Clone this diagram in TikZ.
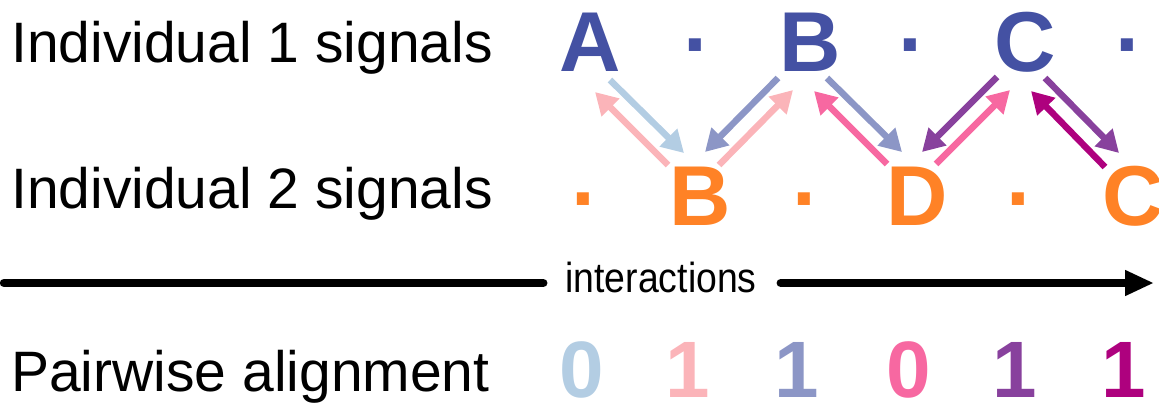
\documentclass[tikz,border=0pt]{standalone}
\usepackage{fontspec}
\usepackage{graphicx}
\setmainfont{Liberation Sans}
\usetikzlibrary{arrows.meta,calc}
\definecolor{sigblue}{HTML}{4451A3}
\definecolor{sigorange}{HTML}{FF8226}
\definecolor{clightblue}{HTML}{B3CDE3}
\definecolor{clightpink}{HTML}{FBB4B9}
\definecolor{cbluegrey}{HTML}{8C96C6}
\definecolor{chotpink}{HTML}{F768A1}
\definecolor{cpurple}{HTML}{88419D}
\definecolor{cmagenta}{HTML}{AE017E}
\tikzset{
  rowlabel/.style={anchor=base west,inner sep=0pt,font=\fontsize{57}{60}\selectfont},
  sigtop/.style={anchor=base,inner sep=0pt,text=sigblue,font=\fontsize{85}{90}\selectfont\bfseries},
  sigbot/.style={anchor=base,inner sep=0pt,text=sigorange,font=\fontsize{85}{90}\selectfont\bfseries},
  digit/.style={anchor=base,inner sep=0pt,font=\fontsize{80}{84}\selectfont\bfseries},
  pairarrow/.style={line width=6.5pt,-{Triangle[length=22pt,width=24pt]}},
  axisline/.style={line width=8.5pt,line cap=round},
}
\begin{document}
\begin{tikzpicture}[x=1pt,y=-1pt]
\useasboundingbox (0,0) rectangle (1159,407);
% row labels
\node[rowlabel] (lab1) at (11,62) {Individual 1 signals};
\node[rowlabel] (lab2) at (11,208) {Individual 2 signals};
\node[rowlabel] (lab3) at (11,391) {Pairwise alignment};
% individual 1
\node[sigtop] (tA) at (590,71) {A};
\node[sigtop] (td1) at (698,73) {·};
\node[sigtop] (tB) at (810,71) {B};
\node[sigtop] (td2) at (913,73) {·};
\node[sigtop] (tC) at (1025,71) {C};
\node[sigtop] (td3) at (1130,73) {·};
% individual 2
\node[sigbot] (bd1) at (586,227) {·};
\node[sigbot] (bB) at (700,225) {B};
\node[sigbot] (bd2) at (807,227) {·};
\node[sigbot] (bD) at (917,225) {D};
\node[sigbot] (bd3) at (1021,227) {·};
\node[sigbot] (bC) at (1133,225) {C};
% exchange arrows
\draw[pairarrow,clightblue] ([shift={(20,9)}]tA.base) -- ([shift={(-16,-72)}]bB.base);
\draw[pairarrow,clightpink] ([shift={(-32,-60)}]bB.base) -- ([shift={(5,21)}]tA.base);
\draw[pairarrow,cbluegrey] ([shift={(-32,7)}]tB.base) -- ([shift={(5,-73)}]bB.base);
\draw[pairarrow,clightpink] ([shift={(19,-60)}]bB.base) -- ([shift={(-17,19)}]tB.base);
\draw[pairarrow,cbluegrey] ([shift={(17,7)}]tB.base) -- ([shift={(-15,-73)}]bD.base);
\draw[pairarrow,chotpink] ([shift={(-30,-61)}]bD.base) -- ([shift={(4,20)}]tB.base);
\draw[pairarrow,cpurple] ([shift={(-28,6)}]tC.base) -- ([shift={(5,-73)}]bD.base);
\draw[pairarrow,chotpink] ([shift={(19,-61)}]bD.base) -- ([shift={(-15,19)}]tC.base);
\draw[pairarrow,cmagenta] ([shift={(-28,-58)}]bC.base) -- ([shift={(6,20)}]tC.base);
\draw[pairarrow,cpurple] ([shift={(20,7)}]tC.base) -- ([shift={(-14,-72)}]bC.base);
% interactions axis
\coordinate (hstart) at (4,283);
\coordinate (hend) at (1154,283);
\node[anchor=base,inner sep=0pt,font=\fontsize{42}{44}\selectfont] (inter) at (661,292) {\scalebox{0.89}[1]{interactions}};
\draw[axisline] (hstart) -- ($(hstart -| inter.west)+(-22,0)$);
\draw[axisline,-{Triangle[length=29pt,width=24pt]}] ($(hend -| inter.east)+(24,0)$) -- (hend);
% pairwise alignment
\node[digit,text=clightblue] (p1) at (582,397) {0};
\node[digit,text=clightpink] (p2) at (688,397) {1};
\node[digit,text=cbluegrey] (p3) at (797,397) {1};
\node[digit,text=chotpink] (p4) at (909,397) {0};
\node[digit,text=cpurple] (p5) at (1015,397) {1};
\node[digit,text=cmagenta] (p6) at (1124,397) {1};
\end{tikzpicture}
\end{document}
